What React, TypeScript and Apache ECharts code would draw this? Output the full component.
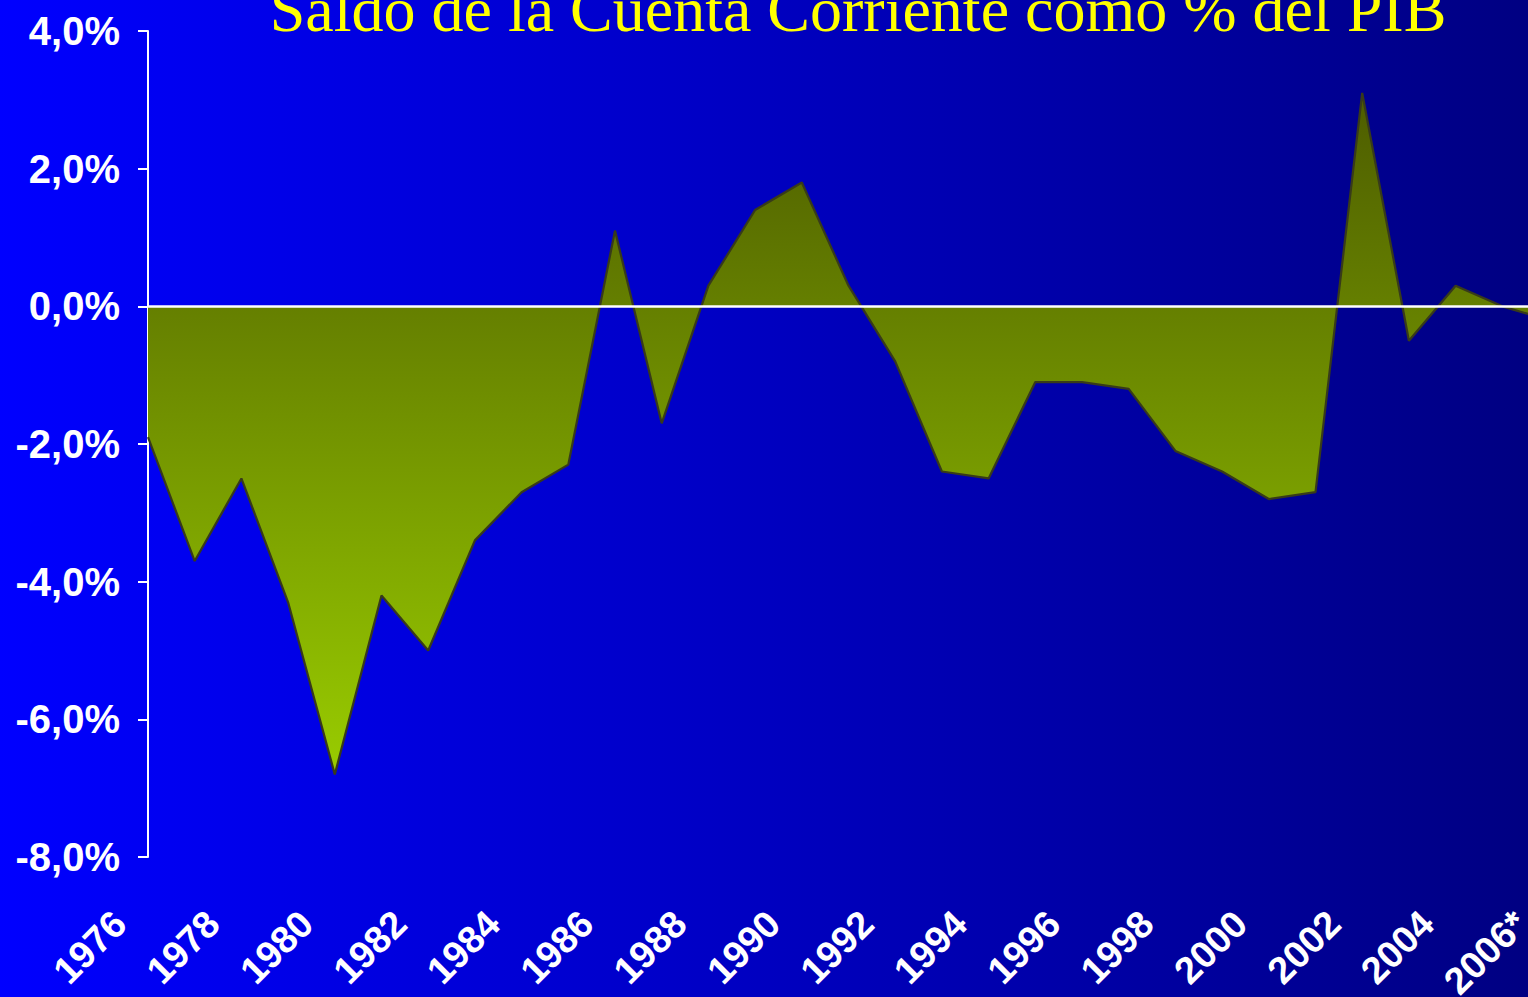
import React, { useEffect, useRef } from "react";
import * as echarts from "echarts";

const title = "Saldo de la Cuenta Corriente como % del PIB";

const years: string[] = [
  "1976", "1977", "1978", "1979", "1980", "1981", "1982", "1983", "1984", "1985",
  "1986", "1987", "1988", "1989", "1990", "1991", "1992", "1993", "1994", "1995",
  "1996", "1997", "1998", "1999", "2000", "2001", "2002", "2003", "2004", "2005",
  "2006*",
];

const saldo: number[] = [
  -1.9, -3.7, -2.5, -4.3, -6.8, -4.2, -5.0, -3.4, -2.7, -2.3,
  1.1, -1.7, 0.3, 1.4, 1.8, 0.3, -0.8, -2.4, -2.5, -1.1,
  -1.1, -1.2, -2.1, -2.4, -2.8, -2.7, 3.1, -0.5, 0.3, 0.0,
  -0.2,
];

const yMin = -8;
const yMax = 4;
const yStep = 2;

export default function App() {
  const ref = useRef<HTMLDivElement>(null);

  useEffect(() => {
    document.body.style.margin = "0";
    if (!ref.current) return;
    const chart = echarts.init(ref.current, null, { renderer: "svg" });
    chart.setOption({
      animation: false,
      graphic: [
        {
          type: "text",
          x: 858,
          y: 9,
          z: 10,
          style: {
            text: title,
            fill: "#ffff00",
            font: '64px "Liberation Serif", "Times New Roman", serif',
            textAlign: "center",
            textVerticalAlign: "middle",
          },
        },
      ],
      grid: {
        left: 148,
        top: 31,
        width: 1401,
        bottom: 140,
        containLabel: false,
        outerBoundsMode: "none",
      },
      xAxis: {
        type: "category",
        data: years,
        boundaryGap: false,
        axisLine: { show: false },
        axisTick: { show: false },
        axisLabel: {
          interval: 1,
          rotate: 45,
          margin: 32,
          color: "#ffffff",
          fontSize: 38,
          fontWeight: "bold",
          fontFamily: '"Liberation Sans", Arial, sans-serif',
          hideOverlap: false,
          formatter: (v: string) => "{t|" + v + "}",
          rich: {
            t: {
              color: "#ffffff",
              fontSize: 38,
              fontWeight: "bold",
              fontFamily: '"Liberation Sans", Arial, sans-serif',
              padding: [0, 40, 0, 0],
            },
          },
        },
        splitLine: { show: false },
      },
      yAxis: {
        type: "value",
        min: yMin,
        max: yMax,
        interval: yStep,
        axisLine: { show: true, lineStyle: { color: "#ffffff", width: 2 } },
        axisTick: { show: true, length: 10, lineStyle: { color: "#ffffff", width: 2 } },
        axisLabel: {
          margin: 28,
          color: "#ffffff",
          fontSize: 40,
          fontWeight: "bold",
          fontFamily: '"Liberation Sans", Arial, sans-serif',
          formatter: (v: number) => v.toFixed(1).replace(".", ",") + "%",
        },
        splitLine: { show: false },
      },
      series: [
        {
          type: "line",
          data: saldo,
          symbol: "none",
          lineStyle: { color: "#383b1a", width: 2.2 },
          areaStyle: {
            color: new echarts.graphic.LinearGradient(0, 0, 0, 1, [
              { offset: 0, color: "#4d5c00" },
              { offset: 1, color: "#99cc00" },
            ]),
            opacity: 1,
          },
          markLine: {
            silent: true,
            symbol: "none",
            label: { show: false },
            lineStyle: { color: "#ffffff", width: 2.5, type: "solid" },
            data: [{ yAxis: 0 }],
          },
        },
      ],
    });
    return () => chart.dispose();
  }, []);

  return (
    <div
      ref={ref}
      style={{
        position: "fixed",
        left: 0,
        top: 0,
        width: 1528,
        height: 997,
        background: "linear-gradient(to right, #0000ff, #000082)",
      }}
    />
  );
}
